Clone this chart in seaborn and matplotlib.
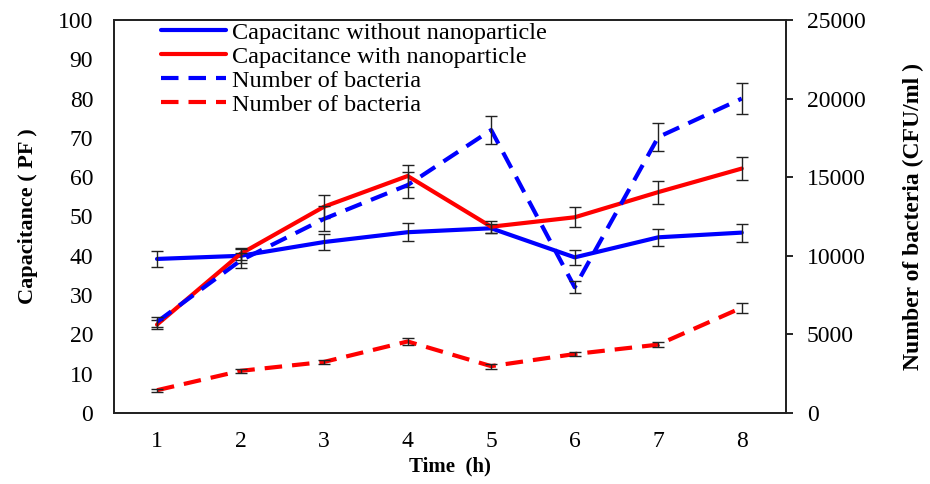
import matplotlib
matplotlib.use("Agg")
import matplotlib.pyplot as plt
import seaborn as sns
import numpy as np
import pandas as pd

# ---- data ----
time_h = [1, 2, 3, 4, 5, 6, 7, 8]
cap_without = [39.2, 40.0, 43.5, 46.0, 47.0, 39.6, 44.7, 45.9]
cap_without_err = [2.0, 1.8, 2.1, 2.3, 1.2, 2.0, 2.2, 2.3]
cap_with = [22.5, 40.5, 52.5, 60.3, 47.4, 49.8, 56.2, 62.2]
cap_with_err = [1.2, 1.5, 2.9, 2.8, 1.5, 2.5, 2.9, 3.0]
bact_blue = [5800, 9700, 12350, 14500, 18000, 8000, 17550, 20000]
bact_blue_err = [300, 500, 800, 800, 870, 380, 870, 960]
bact_red = [1450, 2680, 3250, 4550, 2980, 3750, 4350, 6700]
bact_red_err = [100, 150, 150, 200, 150, 150, 180, 320]

labels = ["Capacitanc without nanoparticle", "Capacitance with nanoparticle",
          "Number of bacteria", "Number of bacteria"]
left_ticks = list(range(0, 101, 10))
right_ticks = list(range(0, 25001, 5000))

sns.set_style("white")
plt.rcParams['font.family'] = ['Liberation Serif', 'DejaVu Serif']
plt.rcParams['text.color'] = 'black'
plt.rcParams['axes.labelcolor'] = 'black'
plt.rcParams['xtick.color'] = 'black'
plt.rcParams['ytick.color'] = 'black'

fig = plt.figure(figsize=(9.3, 4.84), dpi=100)
ax = fig.add_axes([0.1226, 0.1467, 0.7226, 0.812])
ax2 = ax.twinx()

df = pd.DataFrame({"t": time_h, "cw": cap_without, "cn": cap_with,
                   "bb": bact_blue, "br": bact_red})

lw = 3.0
dash = (4.2, 2.4)
sns.lineplot(data=df, x="t", y="cw", ax=ax, color="#0000ff", lw=lw, legend=False)
sns.lineplot(data=df, x="t", y="cn", ax=ax, color="#ff0000", lw=lw, legend=False)
sns.lineplot(data=df, x="t", y="bb", ax=ax2, color="#0000ff", lw=lw, legend=False)
sns.lineplot(data=df, x="t", y="br", ax=ax2, color="#ff0000", lw=lw, legend=False)
ax2.get_lines()[0].set_dashes(dash)
ax2.get_lines()[1].set_dashes(dash)

ekw = dict(fmt="none", ecolor="#222222", elinewidth=1.0, capsize=4, capthick=1.0, zorder=5)
ax.errorbar(time_h, cap_without, yerr=cap_without_err, **ekw)
ax.errorbar(time_h, cap_with, yerr=cap_with_err, **ekw)
ax2.errorbar(time_h, bact_blue, yerr=bact_blue_err, **ekw)
ax2.errorbar(time_h, bact_red, yerr=bact_red_err, **ekw)

ax.set_xlim(0.485, 8.53)
ax.set_ylim(0, 100)
ax2.set_ylim(0, 25000)
ax.set_xticks(time_h)
ax.set_yticks(left_ticks)
ax2.set_yticks(right_ticks)

fs = 17
ax.tick_params(axis="x", length=0, pad=13, labelsize=fs)
ax.tick_params(axis="y", length=0, pad=15, labelsize=fs)
ax2.tick_params(axis="y", direction="out", length=5, width=1.2, pad=10, labelsize=fs, right=True)

for a in (ax, ax2):
    for s in a.spines.values():
        s.set_color("#222222")
        s.set_linewidth(1.3)

ax.set_xlabel("Time  (h)", fontsize=15, fontweight="bold", labelpad=3)
ax.set_ylabel("Capacitance ( PF )", fontsize=16, fontweight="bold", labelpad=14)
ax2.set_ylabel("Number of bacteria (CFU/ml )", fontsize=17, fontweight="bold", labelpad=27)

handles = ax.get_lines()[:2] + ax2.get_lines()[:2]
leg = ax2.legend(handles, labels, loc="upper left", bbox_to_anchor=(0.055, 1.02),
                 frameon=False, fontsize=17.5, handlelength=2.7, labelspacing=0.08,
                 handletextpad=0.25, borderaxespad=0)

fig.savefig("out.png", dpi=100)
